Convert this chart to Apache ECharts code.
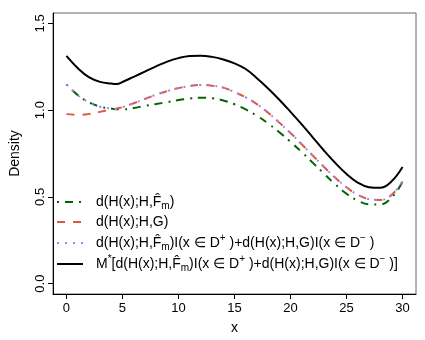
<!DOCTYPE html>
<html><head><meta charset="utf-8">
<script src="https://cdn.jsdelivr.net/npm/echarts@6/dist/echarts.min.js"></script>
<style>html,body{margin:0;padding:0;background:#fff}#c{width:425px;height:340px}</style>
</head><body><div id="c"></div>
<script>
var xs = [0,1,2,3,4,5,6,7,8,9,10,11,12,13,14,15,16,17,18,19,20,21,22,23,24,25,26,27,28,29,30];
var xsSwitch = [0,1,2,3,4,4.5,5,6,7,8,9,10,11,12,13,14,15,16,17,18,19,20,21,22,23,24,25,26,27,28,29,30];
var greenVals = [1.148,1.087,1.045,1.020,1.009,1.004,1.012,1.025,1.035,1.046,1.058,1.067,1.072,1.068,1.056,1.034,1.004,0.968,0.923,0.873,0.818,0.758,0.696,0.633,0.572,0.518,0.478,0.457,0.456,0.494,0.585];
var redVals = [0.977,0.973,0.978,0.990,1.004,1.017,1.040,1.064,1.089,1.110,1.127,1.139,1.145,1.141,1.130,1.104,1.074,1.035,0.985,0.928,0.868,0.803,0.737,0.672,0.610,0.555,0.512,0.487,0.482,0.510,0.589];
var purpleVals = [1.148,1.087,1.045,1.020,1.009,1.007,1.017,1.040,1.064,1.089,1.110,1.127,1.139,1.145,1.141,1.130,1.104,1.074,1.035,0.985,0.928,0.868,0.803,0.737,0.672,0.610,0.555,0.512,0.487,0.482,0.510,0.589];
var blackVals = [1.313,1.243,1.190,1.163,1.153,1.150,1.162,1.192,1.222,1.252,1.280,1.300,1.312,1.314,1.307,1.292,1.270,1.237,1.184,1.125,1.060,0.990,0.918,0.842,0.766,0.695,0.632,0.582,0.556,0.552,0.588,0.672];
var xTicks = [0,5,10,15,20,25,30];
var yTicks = [0,0.5,1,1.5];

function pairs(x, y){ return x.map(function(v,i){ return [v, y[i]]; }); }

var FONT = '"Liberation Sans", Arial, Helvetica, sans-serif';
var chart = echarts.init(document.getElementById('c'), null, {renderer:'canvas'});

var rich = {
  t: {fontSize:14, fontFamily:FONT, color:'#000'},
  sub: {fontSize:10, fontFamily:FONT, color:'#000', padding:[9,0,0,0]},
  sup: {fontSize:10, fontFamily:FONT, color:'#000', padding:[0,0,9,0]}
};
var Fhat = 'F\u0302';
var legendRows = [
  {y:202, color:'#006400', dash:[2,6,8,6], text:'{t|d(H(x);H,'+Fhat+'}{sub|m}{t|)}'},
  {y:222, color:'#DB5A42', dash:[8,8], text:'{t|d(H(x);H,G)}'},
  {y:243, color:'#A87CFF', dash:[2,6], text:'{t|d(H(x);H,'+Fhat+'}{sub|m}{t|)I(x \u2208 D}{sup|+}{t| )+d(H(x);H,G)I(x \u2208 D}{sup|\u2212}{t| )}'},
  {y:264, color:'#000000', dash:null, text:'{t|M}{sup|*}{t|[d(H(x);H,'+Fhat+'}{sub|m}{t|)I(x \u2208 D}{sup|+}{t| )+d(H(x);H,G)I(x \u2208 D}{sup|\u2212}{t| )]}'}
];
var graphics = [];
legendRows.forEach(function(r){
  graphics.push({type:'line', shape:{x1:57,y1:r.y,x2:83,y2:r.y}, style:{stroke:r.color, lineWidth:2, lineDash:r.dash||null}, z:10});
  graphics.push({type:'text', x:96, y:r.y, style:{text:r.text, rich:rich, verticalAlign:'middle', align:'left'}, z:10});
});

function lineSeries(name, x, y, color, dash){
  return {name:name, type:'line', data:pairs(x,y), symbol:'none', smooth:0.4, animation:false,
    lineStyle:{color:color, width:2, type:dash||'solid', cap:'butt'}};
}

chart.setOption({
  animation:false,
  backgroundColor:'#fff',
  grid:{left:42, top:13, width:374, height:284, show:true, borderColor:'#666', borderWidth:1, backgroundColor:'transparent'},
  xAxis:{type:'value', min:-1.2, max:31.2, name:'x', nameLocation:'middle', nameGap:27,
    nameTextStyle:{fontSize:14, fontFamily:FONT, color:'#000'},
    axisLine:{show:true, onZero:false, lineStyle:{color:'#000', width:1}},
    axisTick:{show:true, inside:false, length:5, customValues:xTicks, lineStyle:{color:'#000'}},
    axisLabel:{customValues:xTicks, fontSize:13, fontFamily:FONT, color:'#000', margin:8},
    splitLine:{show:false}},
  yAxis:{type:'value', min:-0.06, max:1.56, name:'Density', nameLocation:'middle', nameGap:31, nameRotate:90,
    nameTextStyle:{fontSize:14, fontFamily:FONT, color:'#000'},
    axisLine:{show:true, onZero:false, lineStyle:{color:'#000', width:1}},
    axisTick:{show:true, inside:false, length:5, customValues:yTicks, lineStyle:{color:'#000'}},
    axisLabel:{customValues:yTicks, rotate:90, align:'center', verticalAlign:'middle', fontSize:13, fontFamily:FONT, color:'#000', margin:13,
      formatter:function(v){ return v.toFixed(1); }},
    splitLine:{show:false}},
  series:[
    lineSeries('green', xs, greenVals, '#006400', [2,6,8,6]),
    lineSeries('red', xs, redVals, '#DB5A42', [8,8]),
    lineSeries('purple', xsSwitch, purpleVals, '#A87CFF', [2,6]),
    lineSeries('black', xsSwitch, blackVals, '#000000', null)
  ],
  graphic:graphics
});
</script></body></html>
